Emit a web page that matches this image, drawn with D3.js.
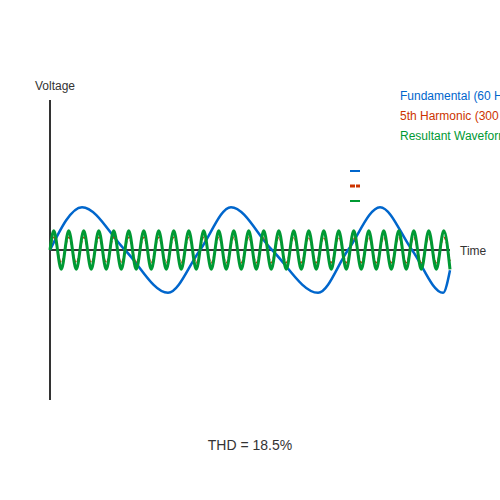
<!DOCTYPE html>
<html>
<head>
<meta charset="utf-8">
<script src="https://cdn.jsdelivr.net/npm/d3@7"></script>
<style>
  html, body { margin: 0; padding: 0; background: #fff; }
  svg { display: block; font-family: Arial, "Liberation Sans", sans-serif; }
</style>
</head>
<body>
<svg id="chart" width="500" height="500"></svg>
<script>
// Time in ms, voltage in per-unit
const fundamentalT = [0, 3.56, 8.33, 13.11, 16.67, 20.11, 24.67, 29.78, 33.11, 36.67, 40.22, 43.67, 44.44];
const fundamentalV = [0, 1, 0, -1, 0, 1, 0, -1, 0, 1, 0, -1, -0.47];

const harmonicT = [0, 0.42, 1.25, 2.08, 2.92, 3.75, 4.58, 5.42, 6.25, 7.08, 7.92, 8.75, 9.58, 10.42, 11.25, 12.08, 12.92, 13.75, 14.58, 15.42, 16.25, 17.08, 17.92, 18.75, 19.58, 20.42, 21.25, 22.08, 22.92, 23.75, 24.58, 25.42, 26.25, 27.08, 27.92, 28.75, 29.58, 30.42, 31.25, 32.08, 32.92, 33.75, 34.58, 35.42, 36.25, 37.08, 37.92, 38.75, 39.58, 40.42, 41.25, 42.08, 42.92, 43.75, 44.44];
const harmonicV = [0, 0.3, -0.3, 0.3, -0.3, 0.3, -0.3, 0.3, -0.3, 0.3, -0.3, 0.3, -0.3, 0.3, -0.3, 0.3, -0.3, 0.3, -0.3, 0.3, -0.3, 0.3, -0.3, 0.3, -0.3, 0.3, -0.3, 0.3, -0.3, 0.3, -0.3, 0.3, -0.3, 0.3, -0.3, 0.3, -0.3, 0.3, -0.3, 0.3, -0.3, 0.3, -0.3, 0.3, -0.3, 0.3, -0.3, 0.3, -0.3, 0.3, -0.3, 0.3, -0.3, 0.3, -0.26];
const resultantV = [0, 0.45, -0.45, 0.45, -0.45, 0.45, -0.45, 0.45, -0.45, 0.45, -0.45, 0.45, -0.45, 0.45, -0.45, 0.45, -0.45, 0.45, -0.45, 0.45, -0.45, 0.45, -0.45, 0.45, -0.45, 0.45, -0.45, 0.45, -0.45, 0.45, -0.45, 0.45, -0.45, 0.45, -0.45, 0.45, -0.45, 0.45, -0.45, 0.45, -0.45, 0.45, -0.45, 0.45, -0.45, 0.45, -0.45, 0.45, -0.45, 0.45, -0.45, 0.45, -0.45, 0.45, -0.45];

const seriesNames = ["Fundamental (60 Hz)", "5th Harmonic (300 Hz)", "Resultant Waveform"];
const seriesColors = ["#0066cc", "#cc3300", "#009933"];
const thdLabel = "THD = 18.5%";

const svg = d3.select("#chart");
const x = d3.scaleLinear().domain([0, 44.44]).range([50, 450]);
const y = d3.scaleLinear().domain([-3.5, 3.5]).range([400, 100]);

const line = d3.line().x(d => x(d[0])).y(d => y(d[1])).curve(d3.curveMonotoneX);

const fundamental = fundamentalT.map((t, i) => [t, fundamentalV[i]]);
const harmonic = harmonicT.map((t, i) => [t, harmonicV[i]]);
const resultant = harmonicT.map((t, i) => [t, resultantV[i]]);

// axes
svg.append("line").attr("x1", x(0)).attr("x2", x(0)).attr("y1", y(3.5)).attr("y2", y(-3.5))
  .attr("stroke", "#333").attr("stroke-width", 2);
svg.append("line").attr("x1", x(0)).attr("x2", x(44.44)).attr("y1", y(0)).attr("y2", y(0))
  .attr("stroke", "#333").attr("stroke-width", 2);

svg.append("text").attr("x", 35).attr("y", 90).attr("font-size", 12).attr("fill", "#333").text("Voltage");
svg.append("text").attr("x", 460).attr("y", 255).attr("font-size", 12).attr("fill", "#333").text("Time");

// series
svg.append("path").datum(fundamental).attr("d", line).attr("fill", "none")
  .attr("stroke", seriesColors[0]).attr("stroke-width", 2.5);
svg.append("path").datum(harmonic).attr("d", line).attr("fill", "none")
  .attr("stroke", seriesColors[1]).attr("stroke-width", 1.5).attr("stroke-dasharray", "4,2");
svg.append("path").datum(resultant).attr("d", line).attr("fill", "none")
  .attr("stroke", seriesColors[2]).attr("stroke-width", 3);

// legend text
seriesNames.forEach((n, i) => {
  svg.append("text").attr("x", 400).attr("y", 100 + i * 20).attr("font-size", 12)
    .attr("fill", seriesColors[i]).text(n);
  const sw = svg.append("line").attr("x1", 350).attr("x2", 360)
    .attr("y1", 171 + i * 15).attr("y2", 171 + i * 15)
    .attr("stroke", seriesColors[i]).attr("stroke-width", i === 1 ? 3 : 2);
  if (i === 1) sw.attr("stroke-dasharray", "5,1");
});

svg.append("text").attr("x", 250).attr("y", 450).attr("text-anchor", "middle")
  .attr("font-size", 14).attr("fill", "#333").text(thdLabel);
</script>
</body>
</html>
